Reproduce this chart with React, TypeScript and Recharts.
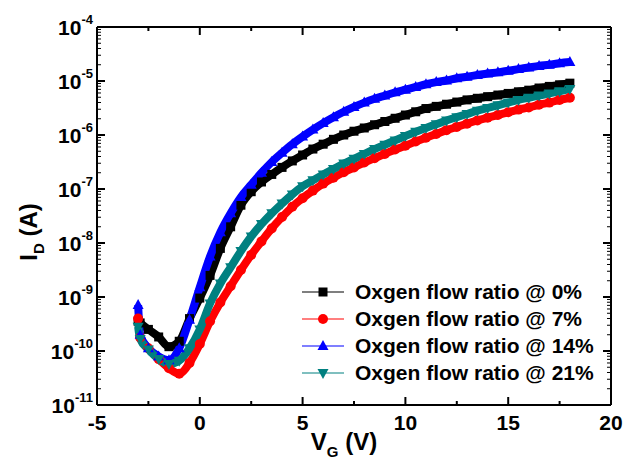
import React from "react";
import { ComposedChart, Line, XAxis, YAxis, Legend } from "recharts";

// gate voltage (V)
const vg = [
  -3, -2.9, -2.5, -2, -1.5, -1, -0.5, 0, 0.5, 1, 1.5, 2, 2.5, 3, 3.5, 4, 4.5, 5, 5.5, 6, 6.5, 7,
  7.5, 8, 8.5, 9, 9.5, 10, 10.5, 11, 11.5, 12, 12.5, 13, 13.5, 14, 14.5, 15, 15.5, 16, 16.5, 17, 17.5, 18,
];

// log10 of drain current (A)
const logId0 = [
  -9.45, -9.48, -9.6, -9.74, -9.92, -9.82, -9.4, -9.02, -8.6, -8.1, -7.7, -7.3, -7.05, -6.87, -6.73, -6.6,
  -6.48, -6.37, -6.26, -6.17, -6.08, -6.0, -5.93, -5.87, -5.81, -5.75, -5.69, -5.63, -5.57, -5.51, -5.47,
  -5.43, -5.39, -5.35, -5.32, -5.29, -5.26, -5.23, -5.2, -5.17, -5.13, -5.1, -5.07, -5.04,
];
const logId7 = [
  -9.4, -9.75, -9.95, -10.15, -10.32, -10.42, -10.22, -9.87, -9.45, -9.1, -8.8, -8.5, -8.22, -7.97, -7.73,
  -7.52, -7.33, -7.17, -7.03, -6.9, -6.79, -6.69, -6.6, -6.51, -6.43, -6.35, -6.27, -6.2, -6.12, -6.05,
  -5.98, -5.91, -5.85, -5.79, -5.73, -5.68, -5.63, -5.58, -5.53, -5.49, -5.44, -5.4, -5.35, -5.31,
];
const logId14 = [
  -9.15, -9.7, -9.95, -10.1, -10.17, -9.95, -9.42, -8.82, -8.25, -7.8, -7.45, -7.15, -6.92, -6.7, -6.5,
  -6.33, -6.17, -6.03, -5.9, -5.78, -5.67, -5.57, -5.48, -5.4, -5.33, -5.27, -5.21, -5.16, -5.11, -5.06,
  -5.02, -4.99, -4.95, -4.92, -4.89, -4.86, -4.84, -4.81, -4.78, -4.75, -4.72, -4.7, -4.67, -4.65,
];
const logId21 = [
  -9.55, -9.78, -9.97, -10.15, -10.24, -10.18, -9.95, -9.6, -9.12, -8.75, -8.45, -8.15, -7.88, -7.65, -7.45,
  -7.27, -7.1, -6.95, -6.84, -6.73, -6.63, -6.53, -6.44, -6.35, -6.26, -6.18, -6.1, -6.02, -5.94, -5.87,
  -5.8, -5.73, -5.67, -5.61, -5.55, -5.5, -5.45, -5.4, -5.35, -5.31, -5.27, -5.23, -5.19, -5.15,
];

const seriesNames = [
  "Oxgen flow ratio @ 0%",
  "Oxgen flow ratio @ 7%",
  "Oxgen flow ratio @ 14%",
  "Oxgen flow ratio @ 21%",
];
const seriesColors = ["#000000", "#ff0000", "#0000ff", "#008080"];
const seriesMarkers = ["square", "circle", "up", "down"];

const xTicks = [-5, -2.5, 0, 2.5, 5, 7.5, 10, 12.5, 15, 17.5, 20];
const xMajorTicks = [-5, 0, 5, 10, 15, 20];
const yExponents = [-11, -10, -9, -8, -7, -6, -5, -4];
const yMinorMult = [1, 2, 3, 4, 5, 6, 7, 8, 9];

const yTicks: number[] = [];
yExponents.forEach((e) => {
  if (e === -4) yTicks.push(1e-4);
  else yMinorMult.forEach((m) => yTicks.push(m * Math.pow(10, e)));
});

const data = vg.map((v, i) => ({
  vg: v,
  s0: Math.pow(10, logId0[i]),
  s7: Math.pow(10, logId7[i]),
  s14: Math.pow(10, logId14[i]),
  s21: Math.pow(10, logId21[i]),
}));
const keys = ["s0", "s7", "s14", "s21"];

const FONT = "'Liberation Sans', Arial, sans-serif";

const Marker = ({ kind, cx, cy, color }: any) => {
  if (cx == null || cy == null) return null;
  if (kind === "square")
    return <rect x={cx - 4.5} y={cy - 4.5} width={9} height={9} fill={color} />;
  if (kind === "circle") return <circle cx={cx} cy={cy} r={5} fill={color} />;
  if (kind === "up")
    return <polygon points={`${cx},${cy - 6} ${cx + 5.5},${cy + 4} ${cx - 5.5},${cy + 4}`} fill={color} />;
  return <polygon points={`${cx},${cy + 6} ${cx + 5.5},${cy - 4} ${cx - 5.5},${cy - 4}`} fill={color} />;
};

const isMajorY = (v: number) => {
  const l = Math.log10(v);
  return Math.abs(l - Math.round(l)) < 1e-6;
};

const LeftTick = (props: any) => {
  const { x, y, payload } = props;
  const v = payload.value;
  const major = isMajorY(v);
  const exp = Math.round(Math.log10(v));
  return (
    <g>
      <line x1={x} x2={x + (major ? 8 : 4)} y1={y} y2={y} stroke="#000" strokeWidth={major ? 2 : 1} />
      {major && (
        <text x={x - 4} y={y + 8} textAnchor="end" fontFamily={FONT} fontWeight="bold" fontSize={21} fill="#000">
          10
          <tspan dy={-11} fontSize={13}>
            {exp}
          </tspan>
        </text>
      )}
    </g>
  );
};

const RightTick = (props: any) => {
  const { x, y, payload } = props;
  const major = isMajorY(payload.value);
  return <line x1={x} x2={x - (major ? 8 : 4)} y1={y} y2={y} stroke="#000" strokeWidth={major ? 2 : 1} />;
};

const BottomTick = (props: any) => {
  const { x, y, payload } = props;
  const major = xMajorTicks.includes(payload.value);
  return (
    <g>
      <line x1={x} x2={x} y1={y} y2={y - (major ? 8 : 4)} stroke="#000" strokeWidth={2} />
      {major && (
        <text x={x} y={y + 25} textAnchor="middle" fontFamily={FONT} fontWeight="bold" fontSize={21} fill="#000">
          {payload.value}
        </text>
      )}
    </g>
  );
};

const TopTick = (props: any) => {
  const { x, y, payload } = props;
  const major = xMajorTicks.includes(payload.value);
  return <line x1={x} x2={x} y1={y} y2={y + (major ? 8 : 4)} stroke="#000" strokeWidth={2} />;
};

const XTitle = () => (
  <text x={344} y={450} textAnchor="middle" fontFamily={FONT} fontWeight="bold" fontSize={24} fill="#000">
    V
    <tspan dy={7} fontSize={15}>G</tspan>
    <tspan dy={-7}> (V)</tspan>
  </text>
);

const YTitle = () => (
  <text
    x={0}
    y={0}
    transform="translate(37,232) rotate(-90)"
    textAnchor="middle"
    fontFamily={FONT}
    fontWeight="bold"
    fontSize={24}
    fill="#000"
  >
    I
    <tspan dy={7} fontSize={15}>D</tspan>
    <tspan dy={-7}> (A)</tspan>
  </text>
);

const LegendBox = () => (
  <div style={{ fontFamily: FONT, fontWeight: "bold", fontSize: 21, color: "#000" }}>
    {seriesNames.map((name, i) => (
      <div key={name} style={{ display: "flex", alignItems: "center", height: 27 }}>
        <svg width={48} height={20} style={{ marginRight: 5 }}>
          <line x1={0} x2={42} y1={10} y2={10} stroke={seriesColors[i]} strokeWidth={1.2} />
          <Marker kind={seriesMarkers[i]} cx={21} cy={10} color={seriesColors[i]} />
        </svg>
        <span style={{ whiteSpace: "nowrap", lineHeight: "27px" }}>{name}</span>
      </div>
    ))}
  </div>
);

const App = () => {
  return (
    <div style={{ position: "absolute", left: 0, top: 0, width: 624, height: 465, background: "#fff" }}>
      <ComposedChart width={624} height={465} data={data} margin={{ top: 26, right: 12, bottom: 0, left: 7 }}>
        <XAxis
          xAxisId="b"
          dataKey="vg"
          type="number"
          domain={[-5, 20]}
          ticks={xTicks}
          interval={0}
          height={60}
          tickSize={0}
          tickMargin={0}
          tickLine={false}
          axisLine={{ stroke: "#000", strokeWidth: 2 }}
          tick={<BottomTick />}
          label={<XTitle />}
          allowDataOverflow
        />
        <XAxis
          xAxisId="t"
          orientation="top"
          dataKey="vg"
          type="number"
          domain={[-5, 20]}
          ticks={xTicks}
          interval={0}
          height={1}
          tickSize={0}
          tickMargin={0}
          tickLine={false}
          axisLine={{ stroke: "#000", strokeWidth: 2 }}
          tick={<TopTick />}
          allowDataOverflow
        />
        <YAxis
          yAxisId="l"
          type="number"
          scale="log"
          domain={[1e-11, 1e-4]}
          ticks={yTicks}
          interval={0}
          width={90}
          tickSize={0}
          tickMargin={0}
          tickLine={false}
          axisLine={{ stroke: "#000", strokeWidth: 2 }}
          tick={<LeftTick />}
          label={<YTitle />}
          allowDataOverflow
        />
        <YAxis
          yAxisId="r"
          orientation="right"
          type="number"
          scale="log"
          domain={[1e-11, 1e-4]}
          ticks={yTicks}
          interval={0}
          width={1}
          tickSize={0}
          tickMargin={0}
          tickLine={false}
          axisLine={{ stroke: "#000", strokeWidth: 2 }}
          tick={<RightTick />}
          allowDataOverflow
        />
        <Legend
          layout="horizontal"
          verticalAlign="middle"
          content={<LegendBox />}
          wrapperStyle={{ position: "absolute", left: 302, top: 278, width: 320, height: 110 }}
        />
        {/* invisible series so the top and right frame axes get drawn */}
        <Line
          xAxisId="t"
          yAxisId="r"
          dataKey="s0"
          stroke="none"
          dot={false}
          activeDot={false}
          legendType="none"
          isAnimationActive={false}
        />
        {keys.map((k, i) => (
          <Line
            key={k}
            xAxisId="b"
            yAxisId="l"
            dataKey={k}
            name={seriesNames[i]}
            type="monotone"
            stroke={seriesColors[i]}
            strokeWidth={8}
            strokeLinejoin="round"
            dot={(p: any) => (
              <Marker key={`${k}-${p.index}`} kind={seriesMarkers[i]} cx={p.cx} cy={p.cy} color={seriesColors[i]} />
            )}
            activeDot={false}
            isAnimationActive={false}
          />
        ))}
      </ComposedChart>
    </div>
  );
};

export default App;
